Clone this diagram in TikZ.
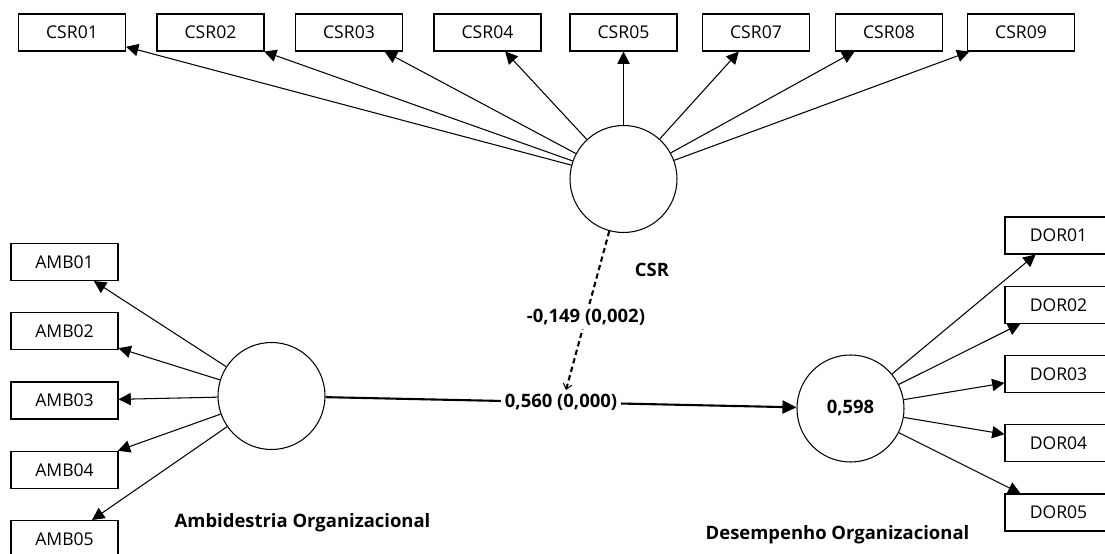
\documentclass[tikz,border=0pt]{standalone}
\usepackage{fontspec}
\setmainfont{Open Sans}
\usepackage{tikz}
\usetikzlibrary{arrows.meta,positioning}

\begin{document}
\begin{tikzpicture}[node distance=1.385cm,on grid,
	ind/.style={draw,line width=0.6pt,minimum width=2.14cm,minimum height=0.74cm,inner sep=0pt,font=\fontsize{10}{12}\selectfont},
	lat/.style={draw,circle,line width=0.6pt,minimum size=2.14cm,inner sep=0pt,font=\fontsize{10.5}{12}\selectfont\bfseries},
	lbl/.style={font=\fontsize{10.5}{12}\selectfont\bfseries},
	coef/.style={fill=white,inner sep=2pt,font=\fontsize{10.5}{12}\selectfont\bfseries},
	load/.style={line width=0.6pt,-{Triangle[length=7pt,width=7pt]}}]
\useasboundingbox (0,0) rectangle (22.1,11.08);
% latent variables
\node[lat]							(csr)		at (12.47,7.50)					{};
\node[lat]							(amb)		at (5.43,3.16)					{};
\node[lat]							(dor)		at (17.01,2.91)					{0,598};
% indicators
\node[ind]							(csr01)		at (1.44,10.43)					{CSR01};
\node[ind]							(csr02)		at (4.21,10.43)					{CSR02};
\node[ind]							(csr03)		at (6.98,10.43)					{CSR03};
\node[ind]							(csr04)		at (9.75,10.43)					{CSR04};
\node[ind]							(csr05)		at (12.47,10.43)				{CSR05};
\node[ind]							(csr07)		at (15.12,10.43)				{CSR07};
\node[ind]							(csr08)		at (17.78,10.43)				{CSR08};
\node[ind]							(csr09)		at (20.42,10.43)				{CSR09};
\node[ind]							(amb01)		at (1.29,5.84)					{AMB01};
\node[ind]							(amb02)		[below=of amb01]				{AMB02};
\node[ind]							(amb03)		[below=of amb02]				{AMB03};
\node[ind]							(amb04)		[below=of amb03]				{AMB04};
\node[ind]							(amb05)		[below=of amb04]				{AMB05};
\node[ind]							(dor01)		at (21.17,6.37)					{DOR01};
\node[ind]							(dor02)		[below=of dor01]				{DOR02};
\node[ind]							(dor03)		[below=of dor02]				{DOR03};
\node[ind]							(dor04)		[below=of dor03]				{DOR04};
\node[ind]							(dor05)		[below=of dor04]				{DOR05};
% names
\node[lbl]							(n_csr)		at (13.04,5.68)					{CSR};
\node[lbl]							(n_amb)		at (6.05,0.62)					{Ambidestria Organizacional};
\node[lbl]							(n_dor)		at (16.75,0.38)					{Desempenho Organizacional};
\coordinate							(m)			at (11.32,3.28);
% loadings
\path[load]
(csr)		edge (csr01) edge (csr02) edge (csr03) edge (csr04)
			edge (csr05) edge (csr07) edge (csr08) edge (csr09)
(amb)		edge (amb01) edge (amb02) edge (amb03) edge (amb04) edge (amb05)
(dor)		edge (dor01) edge (dor02) edge (dor03) edge (dor04) edge (dor05)
;
% paths
\draw[line width=1.2pt,-{Triangle[length=8pt,width=7.5pt]}]
(amb)		--	node[coef, pos=0.5]			{0,560 (0,000)}					(dor);
\draw[line width=1.2pt,dash pattern=on 3pt off 2pt,-{Straight Barb[length=3pt,width=5pt,line width=0.6pt]}]
(csr)		--	node[coef, pos=0.54]		{-0,149 (0,002)}				(m);
\end{tikzpicture}
\end{document}
